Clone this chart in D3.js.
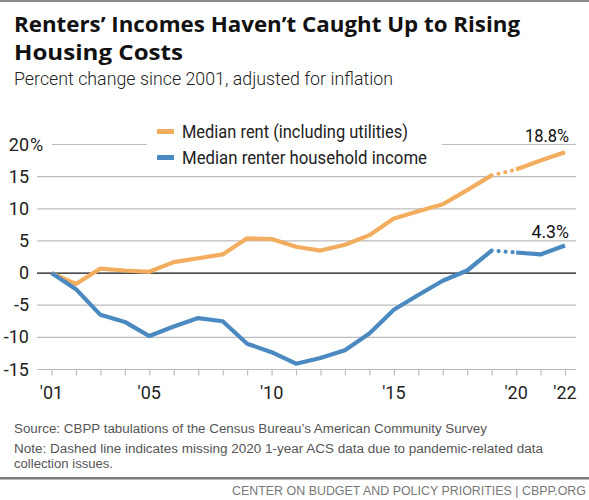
<!DOCTYPE html>
<html>
<head>
<meta charset="utf-8">
<script src="https://cdn.jsdelivr.net/npm/d3@7"></script>
<style>
  html, body { margin: 0; padding: 0; background: #fff; }
  svg { display: block; }
</style>
</head>
<body>
<svg id="chart" width="589" height="500"></svg>
<script>
// ---- Data ----
const years = [2001, 2002, 2003, 2004, 2005, 2006, 2007, 2008, 2009, 2010, 2011,
               2012, 2013, 2014, 2015, 2016, 2017, 2018, 2019, 2020, 2021, 2022];
// Median rent (including utilities), % change since 2001
const rent = [0, -1.7, 0.7, 0.4, 0.2, 1.7, 2.3, 2.9, 5.4, 5.3, 4.1,
              3.5, 4.4, 5.9, 8.5, 9.6, 10.7, 12.9, 15.2, 16.1, 17.5, 18.8];
// Median renter household income, % change since 2001
const income = [0, -2.5, -6.5, -7.6, -9.8, -8.3, -7.0, -7.5, -11.0, -12.3, -14.1,
                -13.2, -12.0, -9.4, -5.7, -3.4, -1.2, 0.4, 3.5, 3.2, 2.9, 4.3];
const seriesNames = ["Median rent (including utilities)", "Median renter household income"];
const yTicks = [-15, -10, -5, 0, 5, 10, 15, 20];
const xLabelYears = [2001, 2005, 2010, 2015, 2020, 2022];
const endLabels = ["18.8%", "4.3%"];
const dashedFrom = 2019, dashedTo = 2020;

const title = ["Renters\u2019 Incomes Haven\u2019t Caught Up to Rising", "Housing Costs"];
const subtitle = "Percent change since 2001, adjusted for inflation";
const source = "Source: CBPP tabulations of the Census Bureau\u2019s American Community Survey";
const note = ["Note: Dashed line indicates missing 2020 1-year ACS data due to pandemic-related data",
              "collection issues."];
const footer = "CENTER ON BUDGET AND POLICY PRIORITIES | CBPP.ORG";

// ---- Drawing ----
const colors = ["#F2AD5F", "#4B89C1"];
const condensed = "'Roboto', sans-serif";
const sans = "'Open Sans', 'Liberation Sans', sans-serif";
const small = "'Liberation Sans', Arial, sans-serif";
const svg = d3.select("#chart");

const x = d3.scaleLinear().domain([2001, 2022]).range([51.5, 565]);
const y = d3.scaleLinear().domain([-15, 20]).range([369.5, 144.5]);

// top rule
svg.append("rect").attr("x", 0).attr("y", 0).attr("width", 589).attr("height", 2).attr("fill", "#8a8a8a");

// title
const titleWidths = [506, 169];
svg.append("g").selectAll("text").data(title).join("text")
  .attr("x", 14).attr("y", (d, i) => 32 + i * 27.5)
  .attr("font-family", sans)
  .attr("font-weight", "bold").attr("font-size", 21).attr("fill", "#111")
  .attr("textLength", (d, i) => titleWidths[i]).attr("lengthAdjust", "spacingAndGlyphs")
  .text(d => d);

svg.append("text").attr("x", 14).attr("y", 85)
  .attr("font-family", condensed).attr("font-weight", 300).attr("font-size", 18).attr("fill", "#222")
  .attr("textLength", 379).attr("lengthAdjust", "spacingAndGlyphs")
  .text(subtitle);

// gridlines
const grid = svg.append("g");
yTicks.filter(v => v !== 20 && v !== 0).forEach(v => {
  grid.append("line").attr("x1", 37).attr("x2", 576)
    .attr("y1", y(v)).attr("y2", y(v))
    .attr("stroke", "#bdbdbd").attr("stroke-width", 1.2);
});
// 20% gridline is interrupted by the legend
[[52, 147], [442, 576]].forEach(([a, b]) => {
  grid.append("line").attr("x1", a).attr("x2", b)
    .attr("y1", y(20)).attr("y2", y(20))
    .attr("stroke", "#bdbdbd").attr("stroke-width", 1.2);
});

// x axis ticks
const xAxis = d3.axisBottom(x).tickValues(years).tickSize(6).tickFormat("");
const gx = svg.append("g").attr("transform", `translate(0,${y(-15)})`).call(xAxis);
gx.select(".domain").remove();
gx.selectAll(".tick line").attr("stroke", "#bdbdbd").attr("stroke-width", 1.2);

svg.append("g").selectAll("text").data(xLabelYears).join("text")
  .attr("x", d => x(d)).attr("y", 399)
  .attr("text-anchor", "middle")
  .attr("font-family", condensed).attr("font-size", 18).attr("fill", "#222")
  .text(d => "'" + String(d).slice(2));

// y axis labels
const gy = svg.append("g");
gy.selectAll("text").data(yTicks).join("text")
  .attr("x", 29).attr("y", d => y(d) + 6)
  .attr("text-anchor", "end")
  .attr("font-family", condensed).attr("font-size", 18).attr("fill", "#222")
  .text(d => d);
gy.append("text").attr("x", 30).attr("y", y(20) + 6)
  .attr("font-family", condensed).attr("font-size", 18).attr("fill", "#222")
  .text("%");

// zero line
svg.append("line").attr("x1", 37).attr("x2", 576)
  .attr("y1", y(0)).attr("y2", y(0))
  .attr("stroke", "#111").attr("stroke-width", 1.3);

// lines
const line = d3.line().x(d => x(d.year)).y(d => y(d.value));
[rent, income].forEach((vals, k) => {
  const pts = years.map((yr, i) => ({ year: yr, value: vals[i] }));
  const before = pts.filter(p => p.year <= dashedFrom);
  const gap = pts.filter(p => p.year >= dashedFrom && p.year <= dashedTo);
  const after = pts.filter(p => p.year >= dashedTo);
  const g = svg.append("g").attr("fill", "none").attr("stroke", colors[k])
    .attr("stroke-width", 4.2).attr("stroke-linejoin", "round");
  g.append("path").attr("d", line(before));
  g.append("path").attr("d", line(after));
  g.append("path").attr("d", line(gap))
    .attr("stroke-linecap", "round").attr("stroke-dasharray", "0 7");
});

// end labels
const endWidths = [44, 37.5];
[rent, income].forEach((vals, k) => {
  svg.append("text").attr("x", 569).attr("y", [141.5, 238][k])
    .attr("text-anchor", "end")
    .attr("font-family", condensed).attr("font-size", 19).attr("fill", "#111")
    .attr("textLength", endWidths[k]).attr("lengthAdjust", "spacingAndGlyphs")
    .text(endLabels[k]);
});

// legend
const legendWidths = [226, 245];
const lg = svg.append("g");
seriesNames.forEach((name, k) => {
  const yy = 131.5 + k * 26;
  lg.append("line").attr("x1", 157).attr("x2", 174).attr("y1", yy).attr("y2", yy)
    .attr("stroke", colors[k]).attr("stroke-width", 5);
  lg.append("text").attr("x", 182).attr("y", yy + 6)
    .attr("font-family", condensed).attr("font-size", 18).attr("fill", "#222")
    .attr("textLength", legendWidths[k]).attr("lengthAdjust", "spacingAndGlyphs")
    .text(name);
});

// footnotes
const fn = svg.append("g").attr("font-family", small)
  .attr("font-size", 12.5).attr("fill", "#555");
fn.append("text").attr("x", 14).attr("y", 432.5)
  .attr("textLength", 473).attr("lengthAdjust", "spacingAndGlyphs").text(source);
const noteWidths = [529, 99];
fn.selectAll("text.note").data(note).join("text").attr("class", "note")
  .attr("x", 14).attr("y", (d, i) => 452.5 + i * 15)
  .attr("textLength", (d, i) => noteWidths[i]).attr("lengthAdjust", "spacingAndGlyphs")
  .text(d => d);

svg.append("rect").attr("x", 0).attr("y", 477).attr("width", 589).attr("height", 2.5).attr("fill", "#7a7a7a");
svg.append("text").attr("x", 586).attr("y", 494.5).attr("text-anchor", "end")
  .attr("font-family", small)
  .attr("font-size", 12.5).attr("fill", "#777")
  .attr("textLength", 354).attr("lengthAdjust", "spacingAndGlyphs")
  .text(footer);
</script>
</body>
</html>
